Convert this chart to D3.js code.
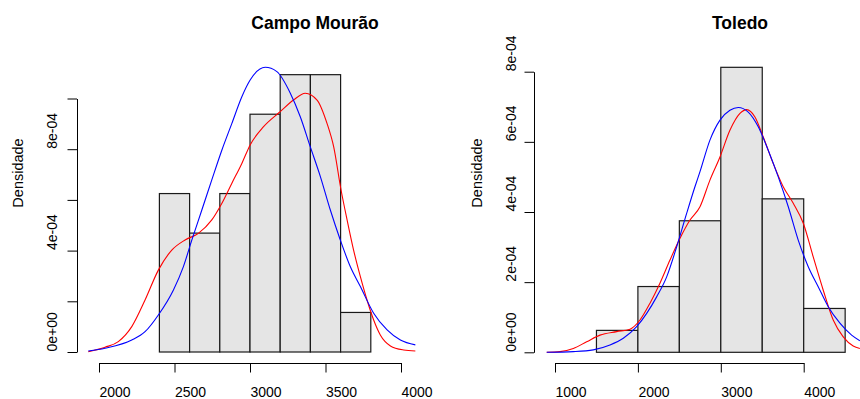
<!DOCTYPE html>
<html>
<head>
<meta charset="utf-8">
<script src="https://cdn.jsdelivr.net/npm/d3@7"></script>
<style>
  html, body { margin: 0; padding: 0; background: #fff; }
  svg { display: block; font-family: "Liberation Sans", Arial, sans-serif; }
  .axis path, .axis line { stroke: #000; stroke-width: 1; }
  .axis text { fill: #000; }
</style>
</head>
<body>
<svg id="chart" width="860" height="399"></svg>
<script>
// ── Campo Mourão (densities in units of 1e-4) ─────────────────────────────
const cmBreaks  = [2400, 2600, 2800, 3000, 3200, 3400, 3600, 3800];
const cmDensity = [6.25, 4.69, 6.25, 9.38, 10.94, 10.94, 1.56];

const cmKdeX = [1929, 2040, 2128, 2217, 2305, 2393, 2482, 2570, 2658, 2747, 2814, 2880, 2946, 3001, 3090,
                3200, 3288, 3366, 3444, 3510, 3554, 3603, 3643, 3686, 3731, 3775, 3819, 3863, 3930, 4018, 4095];
const cmKdeY = [0.01, 0.19, 0.41, 1.00, 2.05, 3.23, 4.02, 4.42, 4.68, 5.21, 5.87, 6.66, 7.44, 8.17, 8.89,
                9.48, 9.94, 10.21, 9.94, 9.02, 8.10, 6.39, 5.21, 4.02, 2.97, 2.05, 1.26, 0.67, 0.24, 0.08, 0.04];

const cmNormX = [1929, 2040, 2217, 2305, 2393, 2493, 2559, 2615, 2681, 2747, 2814, 2880, 2946, 3001,
                 3101, 3178, 3267, 3333, 3399, 3466, 3532, 3598, 3664, 3731, 3819, 3908, 3996, 4095];
const cmNormY = [0.04, 0.15, 0.47, 0.80, 1.46, 2.45, 3.37, 4.42, 5.60, 6.79, 7.97, 9.02, 10.07, 10.73,
                 11.23, 11.06, 10.21, 9.28, 8.10, 6.92, 5.60, 4.42, 3.37, 2.58, 1.53, 0.87, 0.47, 0.28];

const cmXTicks  = [2000, 2500, 3000, 3500, 4000];
const cmYTicks  = [0, 2, 4, 6, 8, 10];
const cmYLabels = ['0e+00', '', '4e-04', '', '8e-04', ''];

// ── Toledo (densities in units of 1e-4) ───────────────────────────────────
const tdBreaks  = [1500, 2000, 2500, 3000, 3500, 4000, 4500];
const tdDensity = [0.625, 1.875, 3.75, 8.125, 4.375, 1.25];

const tdKdeX = [900, 1060, 1221, 1382, 1543, 1744, 1905, 2025, 2146, 2266, 2387, 2508, 2628, 2749, 2869,
                2990, 3110, 3231, 3312, 3412, 3512, 3633, 3753, 3874, 3995, 4115, 4236, 4356, 4477, 4597, 4678];
const tdKdeY = [0, 0.02, 0.11, 0.30, 0.49, 0.59, 0.66, 0.92, 1.40, 1.97, 2.63, 3.25, 3.77, 4.15, 4.91,
                5.57, 6.33, 6.81, 6.92, 6.71, 6.14, 5.38, 4.72, 4.25, 3.68, 2.72, 1.77, 0.92, 0.44, 0.18, 0.11];

const tdNormX = [900, 1221, 1462, 1663, 1824, 1985, 2106, 2226, 2347, 2468, 2588, 2688, 2749, 2869, 2990,
                 3110, 3211, 3331, 3452, 3572, 3693, 3814, 3934, 4055, 4175, 4296, 4437, 4578, 4678];
const tdNormY = [0, 0.02, 0.07, 0.21, 0.40, 0.73, 1.11, 1.58, 2.15, 3.01, 3.96, 4.72, 5.15, 6.05, 6.62,
                 6.90, 6.98, 6.85, 6.43, 5.76, 5.00, 4.15, 3.20, 2.44, 1.87, 1.30, 0.83, 0.49, 0.33];

const tdXTicks  = [1000, 2000, 3000, 4000];
const tdYTicks  = [0, 2, 4, 6, 8];
const tdYLabels = ['0e+00', '2e-04', '4e-04', '6e-04', '8e-04'];

const svg = d3.select('#chart');
svg.append('rect').attr('width', 860).attr('height', 399).attr('fill', '#fff');

function drawPanel(p) {
  const g = svg.append('g');
  const x = d3.scaleLinear().domain(p.xDomain).range(p.xRange);
  const y = d3.scaleLinear().domain(p.yDomain).range(p.yRange);

  // histogram bars
  const bars = p.density.map((d, i) => ({ x0: p.breaks[i], x1: p.breaks[i + 1], d }));
  g.selectAll('.bar')
    .data(bars)
    .enter()
    .append('rect')
    .attr('x', b => x(b.x0))
    .attr('y', b => y(b.d))
    .attr('width', b => x(b.x1) - x(b.x0))
    .attr('height', b => y(0) - y(b.d))
    .attr('fill', '#e5e5e5')
    .attr('stroke', '#1a1a1a')
    .attr('stroke-width', 1.2);

  const line = d3.line()
    .x(d => x(d[0]))
    .y(d => y(d[1]))
    .curve(d3.curveMonotoneX);

  g.append('path')
    .datum(d3.zip(p.kdeX, p.kdeY))
    .attr('fill', 'none')
    .attr('stroke', '#ff0000')
    .attr('stroke-width', 1.1)
    .attr('d', line);

  g.append('path')
    .datum(d3.zip(p.normX, p.normY))
    .attr('fill', 'none')
    .attr('stroke', '#0000ff')
    .attr('stroke-width', 1.1)
    .attr('d', line);

  // x axis
  g.append('g')
    .attr('class', 'axis')
    .attr('transform', `translate(0,${p.xAxisY})`)
    .call(d3.axisBottom(x).tickValues(p.xTicks).tickSize(9.5).tickSizeOuter(0).tickFormat(d3.format('d')))
    .selectAll('text')
    .attr('y', 34)
    .attr('dy', null)
    .style('text-anchor', 'start')
    .style('font-size', '14px');

  // y axis
  g.append('g')
    .attr('class', 'axis')
    .attr('transform', `translate(${p.yAxisX},0)`)
    .call(d3.axisLeft(y).tickValues(p.yTicks).tickSize(9.5).tickSizeOuter(0)
      .tickFormat((d, i) => p.yLabels[i]))
    .selectAll('text')
    .attr('x', null)
    .attr('dy', null)
    .attr('transform', `translate(${p.yLabelOff},${-p.yLabelShift}) rotate(-90)`)
    .style('text-anchor', 'start')
    .style('font-size', '14px');

  // y title
  g.append('text')
    .attr('transform', `translate(${p.ylabX},173) rotate(-90)`)
    .attr('text-anchor', 'middle')
    .style('font-size', '14.5px')
    .text('Densidade');

  // main title
  g.append('text')
    .attr('x', p.titleX)
    .attr('y', 29)
    .attr('text-anchor', 'middle')
    .style('font-size', '17.5px')
    .style('font-weight', 'bold')
    .text(p.title);
}

drawPanel({
  title: 'Campo Mourão', titleX: 315,
  breaks: cmBreaks, density: cmDensity,
  kdeX: cmKdeX, kdeY: cmKdeY, normX: cmNormX, normY: cmNormY,
  xDomain: [2000, 4000], xRange: [99, 401],
  yDomain: [0, 10], yRange: [352, 98.5],
  xTicks: cmXTicks, yTicks: cmYTicks, yLabels: cmYLabels,
  xAxisY: 363, yAxisX: 77, yLabelOff: -20, yLabelShift: 1, ylabX: 23
});

drawPanel({
  title: 'Toledo', titleX: 740,
  breaks: tdBreaks, density: tdDensity,
  kdeX: tdKdeX, kdeY: tdKdeY, normX: tdNormX, normY: tdNormY,
  xDomain: [1000, 4000], xRange: [555, 803.7],
  yDomain: [0, 8], yRange: [352.3, 71.7],
  xTicks: tdXTicks, yTicks: tdYTicks, yLabels: tdYLabels,
  xAxisY: 363, yAxisX: 534, yLabelOff: -18, yLabelShift: 1, ylabX: 481.5
});
</script>
</body>
</html>
